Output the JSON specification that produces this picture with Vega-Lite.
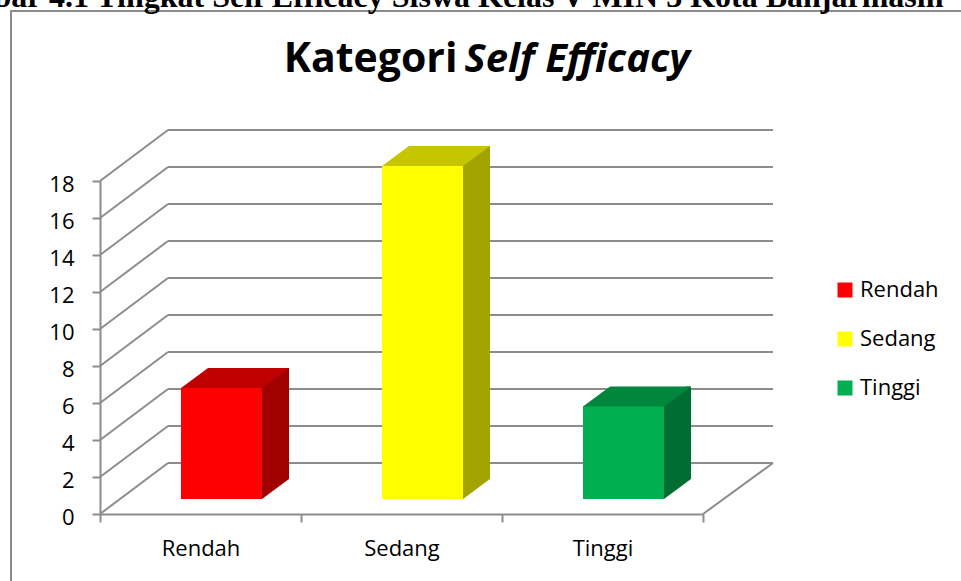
{
  "$schema": "https://vega.github.io/schema/vega-lite/v6.json",
  "width": 952,
  "height": 572,
  "autosize": {"type": "none"},
  "padding": {"left": 11, "top": 11, "right": -2, "bottom": -2},
  "background": "white",
  "config": {
    "view": {"stroke": "#8C8C8C", "strokeWidth": 2},
    "font": "Open Sans",
    "axis": {
      "grid": false,
      "labelFont": "Open Sans",
      "labelFontSize": 22,
      "labelColor": "#000000",
      "domainColor": "#8C8C8C",
      "domainWidth": 2,
      "tickColor": "#8C8C8C",
      "tickWidth": 2,
      "tickSize": 8
    }
  },
  "datasets": {
    "bars": [
      {"category": "Rendah", "value": 6},
      {"category": "Sedang", "value": 18},
      {"category": "Tinggi", "value": 5}
    ],
    "grid": [
      {"v": 0}, {"v": 2}, {"v": 4}, {"v": 6}, {"v": 8},
      {"v": 10}, {"v": 12}, {"v": 14}, {"v": 16}, {"v": 18}
    ]
  },
  "resolve": {"scale": {"color": "independent"}},
  "layer": [
    {
      "data": {"name": "grid"},
      "mark": {"type": "rule", "color": "#8C8C8C", "strokeWidth": 2, "xOffset": 68, "x2Offset": 70, "yOffset": -51},
      "encoding": {
        "x": {
          "datum": "Rendah",
          "type": "nominal",
          "bandPosition": 0,
          "scale": {"type": "band", "domain": ["Rendah", "Sedang", "Tinggi"], "range": [89, 692], "paddingInner": 0, "paddingOuter": 0},
          "axis": null
        },
        "x2": {"datum": "Tinggi", "bandPosition": 1},
        "y": {
          "field": "v",
          "type": "quantitative",
          "scale": {"type": "linear", "domain": [0, 18], "range": [503, 170], "nice": false, "zero": true},
          "axis": {
            "orient": "right",
            "domain": false,
            "ticks": false,
            "labels": false,
            "grid": false,
            "title": "Kategori",
            "titleX": -506,
            "titleY": 60,
            "titleAngle": 0,
            "titleAlign": "right",
            "titleBaseline": "alphabetic",
            "titleFont": "Open Sans",
            "titleFontSize": 41,
            "titleFontWeight": "bold",
            "titleColor": "#000000"
          }
        }
      }
    },
    {
      "data": {"name": "grid"},
      "mark": {"type": "rule", "color": "#8C8C8C", "strokeWidth": 2, "x2Offset": 68, "y2Offset": -51},
      "encoding": {
        "x": {"datum": "Rendah", "type": "nominal", "bandPosition": 0, "axis": null},
        "x2": {"datum": "Rendah", "bandPosition": 0},
        "y": {"field": "v", "type": "quantitative", "axis": null},
        "y2": {"field": "v"}
      }
    },
    {
      "data": {"name": "grid"},
      "transform": [{"filter": "datum.v == 0"}],
      "mark": {"type": "rule", "color": "#8C8C8C", "strokeWidth": 2, "x2Offset": 70, "y2Offset": -51},
      "encoding": {
        "x": {"datum": "Tinggi", "type": "nominal", "bandPosition": 1, "axis": null},
        "x2": {"datum": "Tinggi", "bandPosition": 1},
        "y": {"field": "v", "type": "quantitative", "axis": null},
        "y2": {"field": "v"}
      }
    },
    {
      "data": {"name": "bars"},
      "mark": {"type": "bar", "width": 27, "xOffset": 75, "yOffset": -15, "y2Offset": -35},
      "encoding": {
        "x": {
          "field": "category",
          "type": "nominal",
          "axis": {
            "orient": "top",
            "offset": 0,
            "domain": false,
            "ticks": false,
            "labels": false,
            "grid": false,
            "title": "Gambar 4.1 Tingkat Self Efficacy Siswa Kelas V MIN 3 Kota Banjarmasin",
            "titleX": 932,
            "titleY": -5,
            "titleAngle": 0,
            "titleAlign": "right",
            "titleBaseline": "alphabetic",
            "titleFont": "Liberation Serif",
            "titleFontSize": 32,
            "titleFontWeight": "bold",
            "titleColor": "#000000"
          }
        },
        "y": {"field": "value", "type": "quantitative", "axis": null},
        "y2": {"datum": 0},
        "color": {"field": "category", "type": "nominal", "legend": null,
          "scale": {"domain": ["Rendah", "Sedang", "Tinggi"], "range": ["#A00000", "#A3A300", "#006E31"]}}
      }
    },
    {
      "data": {"name": "bars"},
      "mark": {"type": "point", "filled": true, "opacity": 1, "strokeWidth": 0, "size": 40000,
        "shape": "M0.565,-0.12 L0.565,-0.15 L0.835,-0.35 L0.885,-0.35 L0.885,-0.12 Z"},
      "encoding": {
        "x": {"field": "category", "type": "nominal", "axis": null},
        "y": {"field": "value", "type": "quantitative", "axis": null},
        "color": {"field": "category", "type": "nominal", "legend": null,
          "scale": {"domain": ["Rendah", "Sedang", "Tinggi"], "range": ["#A00000", "#A3A300", "#006E31"]}}
      }
    },
    {
      "data": {"name": "bars"},
      "mark": {"type": "point", "filled": true, "opacity": 1, "strokeWidth": 0, "size": 40000,
        "shape": "M0.585,-0.38 L0.885,-0.38 L0.885,-0.35 L0.615,-0.15 L0.585,-0.16 Z"},
      "encoding": {
        "x": {"field": "category", "type": "nominal", "axis": null},
        "y": {"datum": 0, "type": "quantitative", "axis": null},
        "color": {"field": "category", "type": "nominal", "legend": null,
          "scale": {"domain": ["Rendah", "Sedang", "Tinggi"], "range": ["#A00000", "#A3A300", "#006E31"]}}
      }
    },
    {
      "data": {"name": "bars"},
      "mark": {"type": "point", "filled": true, "opacity": 1, "strokeWidth": 0, "size": 40000,
        "shape": "M-0.195,-0.13 L0.615,-0.13 L0.615,-0.15 L0.885,-0.35 L0.075,-0.35 L-0.195,-0.15 Z"},
      "encoding": {
        "x": {"field": "category", "type": "nominal", "axis": null},
        "y": {"field": "value", "type": "quantitative", "axis": null},
        "color": {"field": "category", "type": "nominal", "legend": null,
          "scale": {"domain": ["Rendah", "Sedang", "Tinggi"], "range": ["#C00000", "#C6C600", "#00873D"]}}
      }
    },
    {
      "data": {"name": "bars"},
      "mark": {"type": "bar", "width": 81, "xOffset": 21, "yOffset": -15, "y2Offset": -15},
      "encoding": {
        "x": {
          "field": "category",
          "type": "nominal",
          "axis": {
            "orient": "bottom",
            "offset": -69,
            "tickBand": "extent",
            "labelAngle": 0,
            "labelPadding": 16,
            "title": null,
            "zindex": 1
          }
        },
        "y": {
          "field": "value",
          "type": "quantitative",
          "axis": {
            "orient": "left",
            "offset": -89,
            "values": [0, 2, 4, 6, 8, 10, 12, 14, 16, 18],
            "labelPadding": 18,
            "labelOffset": 3,
            "title": "Self Efficacy",
            "titleX": 364,
            "titleY": 60,
            "titleAngle": 0,
            "titleAlign": "left",
            "titleBaseline": "alphabetic",
            "titleFont": "Open Sans",
            "titleFontSize": 40,
            "titleFontWeight": "bold",
            "titleFontStyle": "italic",
            "titleColor": "#000000"
          }
        },
        "y2": {"datum": 0},
        "color": {
          "field": "category",
          "type": "nominal",
          "scale": {"domain": ["Rendah", "Sedang", "Tinggi"], "range": ["#FF0000", "#FFFF00", "#00B050"]},
          "legend": {
            "orient": "none",
            "direction": "vertical",
            "legendX": 823,
            "legendY": 268,
            "title": null,
            "padding": 0,
            "symbolType": "square",
            "symbolSize": 225,
            "symbolStrokeWidth": 0,
            "labelFont": "Open Sans",
            "labelFontSize": 22,
            "labelColor": "#000000",
            "labelOffset": 4,
            "rowPadding": 27
          }
        }
      }
    }
  ]
}
